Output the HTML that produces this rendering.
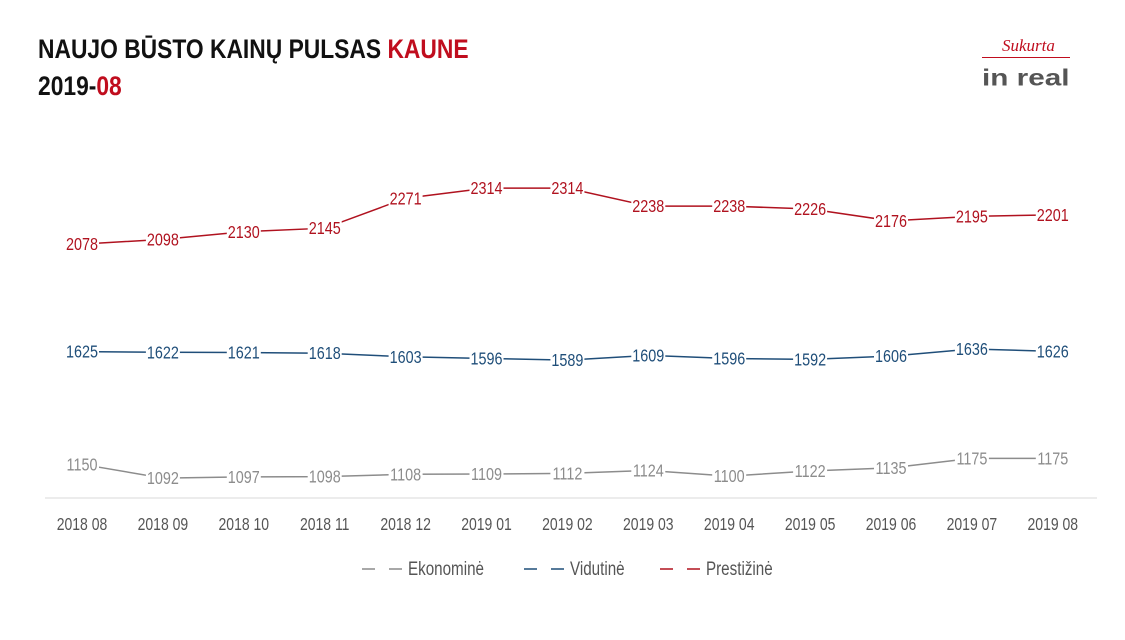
<!DOCTYPE html>
<html><head><meta charset="utf-8">
<style>
html,body{margin:0;padding:0;background:#fff;}
body{width:1125px;height:640px;overflow:hidden;position:relative;font-family:"Liberation Sans",sans-serif;}
.t{position:absolute;left:38px;font-family:"Liberation Sans",sans-serif;font-weight:bold;font-size:27px;color:#111;transform:scaleX(0.845);transform-origin:0 0;white-space:nowrap}
svg{position:absolute;left:0;top:0}
</style></head>
<body>
<div class="t" style="top:34px">NAUJO BŪSTO KAINŲ PULSAS <span style="color:#c00d1e">KAUNE</span></div>
<div class="t" style="top:71px">2019-<span style="color:#c00d1e">08</span></div>
<div style="position:absolute;left:982px;top:36px;width:90px;height:60px">
  <div style="position:absolute;left:20px;top:0;font-family:'Liberation Serif',serif;font-style:italic;color:#c00d1e;font-size:17px">Sukurta</div>
  <div style="position:absolute;left:0;top:21px;width:88px;height:1px;background:#c00d1e"></div>
  <div style="position:absolute;left:0;top:31px;font-family:'Liberation Sans',sans-serif;font-weight:bold;color:#555;font-size:27px;letter-spacing:0px;transform:scale(1.1,0.85);transform-origin:0 0;line-height:27px">in real</div>
</div>
<svg id="chart" width="1125" height="640"></svg>
<script>
const categories=["2018 08","2018 09","2018 10","2018 11","2018 12","2019 01","2019 02","2019 03","2019 04","2019 05","2019 06","2019 07","2019 08"];
const ekonomine=[1150,1092,1097,1098,1108,1109,1112,1124,1100,1122,1135,1175,1175];
const vidutine=[1625,1622,1621,1618,1603,1596,1589,1609,1596,1592,1606,1636,1626];
const prestizine=[2078,2098,2130,2145,2271,2314,2314,2238,2238,2226,2176,2195,2201];
const seriesNames=["Ekonominė","Vidutinė","Prestižinė"];
const colors=["#8c8c8c","#1f4e79","#b0121f"];
const NS="http://www.w3.org/2000/svg";
const svg=document.getElementById('chart');
function x(i){return 82+i*80.9;}
function y(v){return 737.2-v*0.2373;}
function mk(t,a){const e=document.createElementNS(NS,t);for(const k in a)e.setAttribute(k,a[k]);svg.appendChild(e);return e;}
function txt(px,py,s,size,fill,anchor){const t=mk('text',{x:0,y:0,transform:`translate(${px},${py}) scale(0.8,1)`,'text-anchor':anchor,'font-size':size,fill:fill});t.textContent=s;return t;}
const ax=mk('line',{x1:45,x2:1097,y1:498,y2:498,stroke:'#d9d9d9','stroke-width':1});


categories.forEach((c,i)=>{const t=txt(x(i),530,c,17.5,'#555','middle');

});
[ekonomine,vidutine,prestizine].forEach((d,s)=>{
  const p=mk('polyline',{points:d.map((v,i)=>x(i)+','+y(v)).join(' '),fill:'none',stroke:colors[s],'stroke-width':1.5});
  
  
  d.forEach((v,i)=>{
    const w=34;
    const r=mk('rect',{x:x(i)-w/2,y:y(v)-10,width:w,height:20,fill:'#fff'});
    
    
    const t=txt(x(i),y(v)+6,String(v),18,colors[s],'middle');
    
    
  });
  const lx=[362,524,660][s];
  const l=mk('line',{x1:lx,x2:lx+40,y1:569,y2:569,stroke:colors[s],'stroke-width':1.5,'stroke-dasharray':'13 14'});
  
  
  const lt=txt(lx+46,575,seriesNames[s],19,'#555','start');
  
  
});
</script>
</body></html>
